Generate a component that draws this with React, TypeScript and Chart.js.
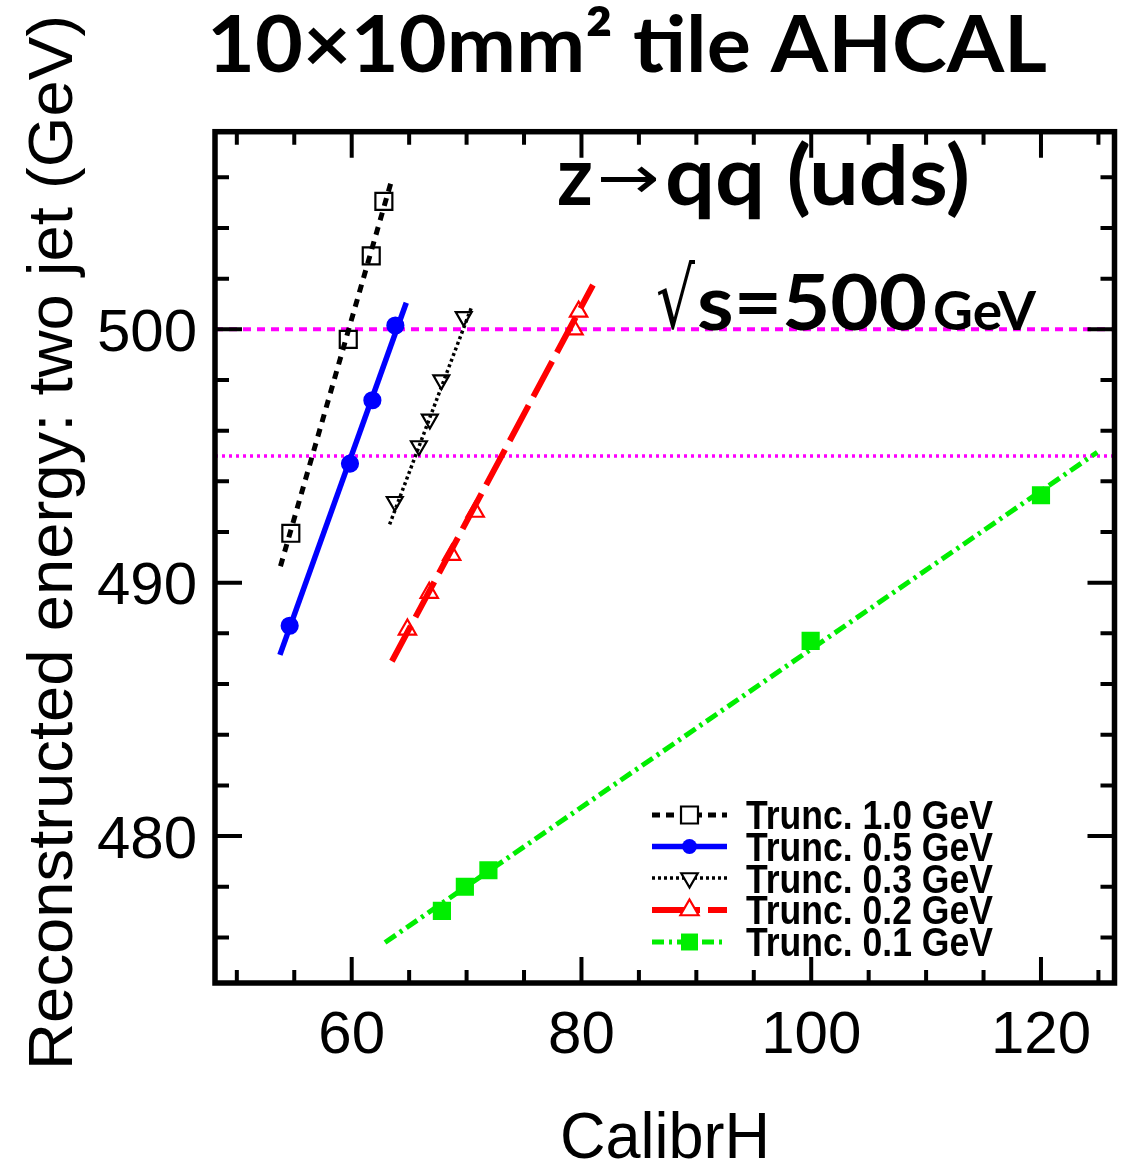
import React, { useEffect, useRef } from 'react';
import { Chart, registerables } from 'chart.js';

Chart.register(...registerables);

// ---- axis ranges and ticks ----
const xMin = 48.1;
const xMax = 126.4;
const yMin = 474.2;
const yMax = 507.8;
const xTickValues = [50, 55, 60, 65, 70, 75, 80, 85, 90, 95, 100, 105, 110, 115, 120, 125];
const xLabelValues = [60, 80, 100, 120];
const yTickValues = [476, 478, 480, 482, 484, 486, 488, 490, 492, 494, 496, 498, 500, 502, 504, 506];
const yLabelValues = [480, 490, 500];

// ---- series (measured points) ----
const seriesLabels = ['Trunc. 1.0 GeV', 'Trunc. 0.5 GeV', 'Trunc. 0.3 GeV', 'Trunc. 0.2 GeV', 'Trunc. 0.1 GeV'];

const trunc10X = [54.7, 59.7, 61.7, 62.8];
const trunc10Y = [491.95, 499.6, 502.9, 505.05];
const trunc05X = [54.6, 59.85, 61.8, 63.8];
const trunc05Y = [488.3, 494.7, 497.2, 500.15];
const trunc03X = [63.75, 65.85, 66.8, 67.8, 69.75];
const trunc03Y = [493.2, 495.4, 496.45, 498.0, 500.5];
const trunc02X = [64.85, 66.75, 68.7, 70.75, 79.35, 79.75];
const trunc02Y = [488.15, 489.6, 491.1, 492.8, 500.0, 500.7];
const trunc01X = [67.85, 69.85, 71.9, 99.95, 120.0];
const trunc01Y = [477.05, 478.0, 478.65, 487.7, 493.45];

// ---- linear fits (end points) ----
const fit10X = [53.8, 63.55];
const fit10Y = [490.65, 506.0];
const fit05X = [53.75, 64.75];
const fit05Y = [487.15, 501.05];
const fit03X = [63.3, 70.45];
const fit03Y = [492.3, 500.9];
const fit02X = [63.5, 81.0];
const fit02Y = [486.9, 501.75];
const fit01X = [62.9, 124.9];
const fit01Y = [475.8, 495.15];

// ---- reference levels ----
const referenceLevels = [500, 495];

const zip = (xs: number[], ys: number[]) => xs.map((x, i) => ({ x, y: ys[i] }));

type Style = {
  color: string;
  width: number;
  dash: number[];
  legendDash: number[];
  pointStyle: string;
  radius: number;
  fill: boolean;
  rotation: number;
  legendRadius: number;
};

const styles: Style[] = [
  { color: '#000000', width: 5, dash: [8, 7], legendDash: [8, 6], pointStyle: 'rect', radius: 12, fill: false, rotation: 0, legendRadius: 12 },
  { color: '#0000ff', width: 5.5, dash: [], legendDash: [], pointStyle: 'circle', radius: 8, fill: true, rotation: 0, legendRadius: 7.5 },
  { color: '#000000', width: 3.5, dash: [3, 3], legendDash: [3, 3], pointStyle: 'triangle', radius: 9.2, fill: false, rotation: 180, legendRadius: 9.5 },
  { color: '#ff0000', width: 6, dash: [40, 10], legendDash: [48, 8], pointStyle: 'triangle', radius: 10, fill: false, rotation: 0, legendRadius: 10.5 },
  { color: '#00ee00', width: 5, dash: [13, 5, 3, 5], legendDash: [12, 5, 3, 5], pointStyle: 'rect', radius: 11.3, fill: true, rotation: 0, legendRadius: 12 },
];

const pointSets = [zip(trunc10X, trunc10Y), zip(trunc05X, trunc05Y), zip(trunc03X, trunc03Y), zip(trunc02X, trunc02Y), zip(trunc01X, trunc01Y)];
const fitSets = [zip(fit10X, fit10Y), zip(fit05X, fit05Y), zip(fit03X, fit03Y), zip(fit02X, fit02Y), zip(fit01X, fit01Y)];

function fitText(ctx: CanvasRenderingContext2D, text: string, font: string, x: number, y: number, w: number) {
  ctx.save();
  ctx.font = font;
  ctx.textAlign = 'left';
  ctx.textBaseline = 'alphabetic';
  const m = ctx.measureText(text).width;
  ctx.translate(x, y);
  ctx.scale(w / m, 1);
  ctx.fillText(text, 0, 0);
  ctx.restore();
}

function drawMarker(ctx: CanvasRenderingContext2D, s: Style, x: number, y: number) {
  const r = s.legendRadius;
  ctx.save();
  ctx.setLineDash([]);
  ctx.lineWidth = 2.2;
  ctx.strokeStyle = s.color;
  ctx.fillStyle = s.color;
  ctx.beginPath();
  if (s.pointStyle === 'circle') {
    ctx.arc(x, y, r, 0, Math.PI * 2);
  } else if (s.pointStyle === 'rect') {
    const h = r * Math.SQRT1_2;
    ctx.rect(x - h, y - h, 2 * h, 2 * h);
  } else {
    let a = (s.rotation * Math.PI) / 180;
    ctx.moveTo(x + Math.sin(a) * r, y - Math.cos(a) * r);
    a += (2 * Math.PI) / 3;
    ctx.lineTo(x + Math.sin(a) * r, y - Math.cos(a) * r);
    a += (2 * Math.PI) / 3;
    ctx.lineTo(x + Math.sin(a) * r, y - Math.cos(a) * r);
    ctx.closePath();
  }
  if (s.fill) ctx.fill();
  else {
    ctx.fillStyle = '#ffffff';
    ctx.fill();
    ctx.stroke();
  }
  ctx.restore();
}

const decorPlugin = {
  id: 'decor',
  afterDraw(chart: any) {
    const ctx: CanvasRenderingContext2D = chart.ctx;
    const { left, right, top, bottom } = chart.chartArea;
    const xs = chart.scales.x;
    const ys = chart.scales.y;
    ctx.save();
    ctx.fillStyle = '#000';
    ctx.strokeStyle = '#000';
    ctx.setLineDash([]);

    // ticks
    ctx.lineWidth = 4;
    ctx.beginPath();
    xs.ticks.forEach((t: any) => {
      const px = xs.getPixelForValue(t.value);
      const len = xLabelValues.includes(t.value) ? 26 : 13;
      ctx.moveTo(px, bottom);
      ctx.lineTo(px, bottom - len);
      ctx.moveTo(px, top);
      ctx.lineTo(px, top + len);
    });
    ys.ticks.forEach((t: any) => {
      const py = ys.getPixelForValue(t.value);
      const len = yLabelValues.includes(t.value) ? 27 : 14;
      ctx.moveTo(left, py);
      ctx.lineTo(left + len, py);
      ctx.moveTo(right, py);
      ctx.lineTo(right - len, py);
    });
    ctx.stroke();

    // frame
    ctx.lineWidth = 5.5;
    ctx.strokeRect(left, top, right - left, bottom - top);

    // tick labels
    ctx.font = '60px "Liberation Sans", Arial, sans-serif';
    ctx.textBaseline = 'alphabetic';
    ctx.textAlign = 'center';
    xLabelValues.forEach((v) => {
      ctx.fillText(String(v), xs.getPixelForValue(v), 1053);
    });
    ctx.textAlign = 'right';
    yLabelValues.forEach((v) => {
      ctx.fillText(String(v), 197, ys.getPixelForValue(v) + 21.5);
    });

    // axis titles
    fitText(ctx, 'CalibrH', '64px "Liberation Sans", Arial, sans-serif', 560, 1158, 210);
    ctx.save();
    ctx.translate(72, 1070);
    ctx.rotate(-Math.PI / 2);
    fitText(ctx, 'Reconstructed energy: two jet (GeV)', '63px "Liberation Sans", Arial, sans-serif', 0, 0, 1055);
    ctx.restore();

    // main title
    fitText(ctx, '10×10mm² tile AHCAL', 'bold 79px Lato, "Noto Sans", sans-serif', 207, 72, 840);

    // annotations
    fitText(ctx, 'z', 'bold 82px Lato, "Noto Sans", sans-serif', 557, 205, 36);
    fitText(ctx, '→', '60px "DejaVu Sans", sans-serif', 597, 198, 63);
    fitText(ctx, 'qq (uds)', 'bold 82px Lato, "Noto Sans", sans-serif', 665, 205, 305);
    fitText(ctx, '√', '84px "DejaVu Sans", sans-serif', 656, 328, 39);
    fitText(ctx, 's=500', 'bold 76px Lato, "Noto Sans", sans-serif', 697, 330, 230);
    fitText(ctx, 'GeV', 'bold 53px Lato, "Noto Sans", sans-serif', 933, 330, 103);

    // legend
    const rowY = [815, 846.5, 878, 910, 942];
    const textBase = [829.3, 860.9, 892.5, 924.1, 955.7];
    seriesLabels.forEach((label, i) => {
      const s = styles[i];
      ctx.save();
      ctx.strokeStyle = s.color;
      ctx.lineWidth = s.width;
      ctx.setLineDash(s.legendDash);
      ctx.beginPath();
      ctx.moveTo(652, rowY[i]);
      ctx.lineTo(727, rowY[i]);
      ctx.stroke();
      ctx.restore();
      drawMarker(ctx, s, 689.5, rowY[i]);
      ctx.fillStyle = '#000';
      fitText(ctx, label, 'bold 41px "Liberation Sans", Arial, sans-serif', 746, textBase[i], 247);
    });
    ctx.restore();
  },
};

export default function App() {
  const ref = useRef<HTMLCanvasElement>(null);
  useEffect(() => {
    if (!ref.current) return;
    const datasets: any[] = [];
    // markers first (drawn on top)
    pointSets.forEach((pts, i) => {
      const s = styles[i];
      datasets.push({
        label: seriesLabels[i],
        data: pts,
        showLine: false,
        pointStyle: s.pointStyle,
        pointRadius: s.radius,
        pointRotation: s.rotation,
        pointBorderWidth: 2.2,
        pointBorderColor: s.color,
        pointBackgroundColor: s.fill ? s.color : 'rgba(0,0,0,0)',
      });
    });
    fitSets.forEach((pts, i) => {
      const s = styles[i];
      datasets.push({
        label: seriesLabels[i] + ' fit',
        data: pts,
        showLine: true,
        pointRadius: 0,
        borderColor: s.color,
        borderWidth: s.width,
        borderDash: s.dash,
        tension: 0,
      });
    });
    referenceLevels.forEach((lvl, i) => {
      datasets.push({
        label: 'ref ' + lvl,
        data: [{ x: xMin, y: lvl }, { x: xMax, y: lvl }],
        showLine: true,
        pointRadius: 0,
        borderColor: '#ff00ff',
        borderWidth: i === 0 ? 4 : 3.5,
        borderDash: i === 0 ? [8, 6] : [3, 4],
      });
    });

    const chart = new Chart(ref.current, {
      type: 'scatter',
      data: { datasets },
      plugins: [decorPlugin],
      options: {
        animation: false,
        responsive: false,
        maintainAspectRatio: false,
        devicePixelRatio: 1,
        events: [],
        layout: { padding: { left: 0, right: 14.5, top: 131.7, bottom: 0 } },
        plugins: { legend: { display: false }, tooltip: { enabled: false }, title: { display: false } },
        scales: {
          x: {
            type: 'linear',
            min: xMin,
            max: xMax,
            grid: { display: false },
            border: { display: false },
            ticks: { display: false },
            afterBuildTicks: (scale: any) => {
              scale.ticks = xTickValues.map((v) => ({ value: v }));
            },
            afterFit: (scale: any) => {
              scale.height = 1166 - 983;
            },
          },
          y: {
            type: 'linear',
            min: yMin,
            max: yMax,
            grid: { display: false },
            border: { display: false },
            ticks: { display: false },
            afterBuildTicks: (scale: any) => {
              scale.ticks = yTickValues.map((v) => ({ value: v }));
            },
            afterFit: (scale: any) => {
              scale.width = 215;
            },
          },
        },
      } as any,
    });
    return () => chart.destroy();
  }, []);
  return (
    <div style={{ position: 'absolute', left: 0, top: 0, width: 1129, height: 1166, background: '#fff' }}>
      <canvas ref={ref} width={1129} height={1166} style={{ width: 1129, height: 1166, display: 'block' }} />
    </div>
  );
}
